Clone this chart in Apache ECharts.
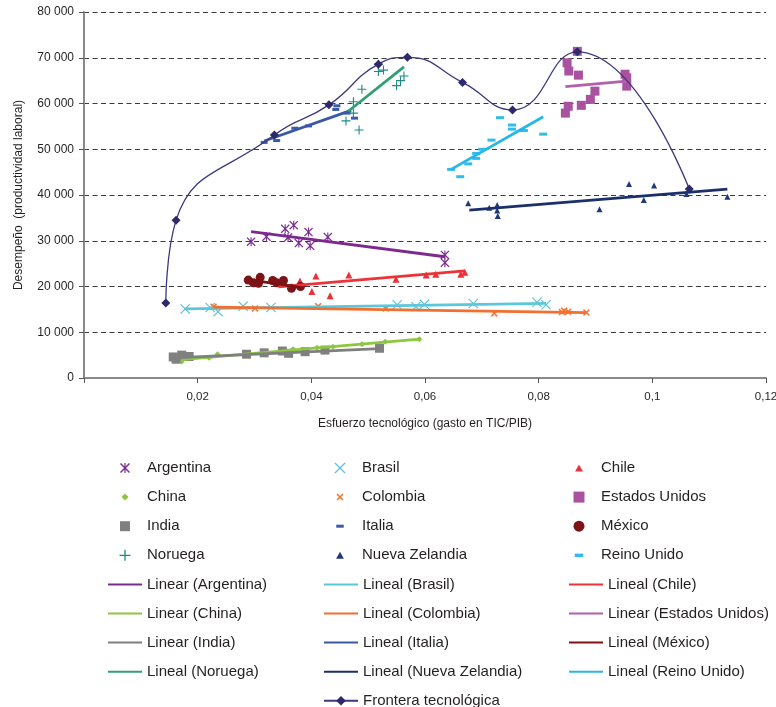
<!DOCTYPE html>
<html>
<head>
<meta charset="utf-8">
<script src="https://cdn.jsdelivr.net/npm/echarts@6/dist/echarts.min.js"></script>
<style>
html,body{margin:0;padding:0;background:#fff;}
#chart{width:776px;height:707px;}
</style>
</head>
<body>
<div id="chart"></div>
<script>
// ---- data ----
const xTickLabels = ['', '0,02', '0,04', '0,06', '0,08', '0,1', '0,12'];
const yTickLabels = ['0', '10 000', '20 000', '30 000', '40 000', '50 000', '60 000', '70 000', '80 000'];

const argentina = [[0.0294,29800],[0.0321,30900],[0.0354,32600],[0.0369,33400],[0.0359,30700],[0.0378,29500],[0.0395,31900],[0.0398,28900],[0.0429,30800],[0.0635,26900],[0.0635,25200]];
const brasil = [[0.0178,15100],[0.0222,15400],[0.0236,14500],[0.0280,15700],[0.0329,15400],[0.0551,16000],[0.0584,15600],[0.0599,16100],[0.0685,16300],[0.0797,16550],[0.0813,16000]];
const chile = [[0.0380,21200],[0.0408,22300],[0.0401,18900],[0.0433,18000],[0.0466,22500],[0.0549,21600],[0.0602,22500],[0.0619,22700],[0.0663,22700],[0.0670,23100]];
const china = [[0.0172,3600],[0.0220,4400],[0.0235,5200],[0.0368,6300],[0.0410,6600],[0.0438,6850],[0.0489,7400],[0.0530,7900],[0.0590,8450]];
const colombia = [[0.0228,15600],[0.0301,15200],[0.0412,15700],[0.0531,15200],[0.0722,14100],[0.0841,14400],[0.0845,14700],[0.0852,14500],[0.0884,14300]];
const estadosUnidos = [[0.0868,71400],[0.0850,68900],[0.0853,67100],[0.0870,66200],[0.0952,66400],[0.0955,65600],[0.0955,63800],[0.0899,62700],[0.0891,60900],[0.0875,59600],[0.0852,59400],[0.0847,57900]];
const india = [[0.0157,4600],[0.0162,4100],[0.0172,5000],[0.0185,4700],[0.0286,5200],[0.0317,5500],[0.0349,5900],[0.0360,5400],[0.0389,5750],[0.0424,6100],[0.0520,6500]];
const italia = [[0.0317,51500],[0.0339,51900],[0.0371,54600],[0.0395,55100],[0.0445,59500],[0.0443,58700],[0.0463,57900],[0.0476,56800]];
const mexico = [[0.0289,21400],[0.0298,20800],[0.0310,22000],[0.0307,20700],[0.0332,21300],[0.0339,20800],[0.0351,21300],[0.0365,19600],[0.0381,20000]];
const noruega = [[0.0518,68600],[0.0518,67000],[0.0527,67300],[0.0489,63100],[0.0474,60400],[0.0474,57900],[0.0461,56200],[0.0484,54200],[0.0550,63900],[0.0557,65000],[0.0563,66000]];
const nuevaZelandia = [[0.0676,38200],[0.0713,37200],[0.0727,37800],[0.0727,36600],[0.0728,35400],[0.0907,36900],[0.0959,42400],[0.0985,38900],[0.1003,42100],[0.1060,40200],[0.1132,39600]];
const reinoUnido = [[0.0646,45600],[0.0662,44000],[0.0676,46800],[0.0690,48000],[0.0690,49100],[0.0701,50000],[0.0717,52000],[0.0732,56900],[0.0753,55300],[0.0753,54400],[0.0774,54100],[0.0808,53300]];

const trendArgentina = [[0.0294,32000],[0.0635,26500]];
const trendBrasil = [[0.0178,15100],[0.0813,16300]];
const trendChile = [[0.0342,19900],[0.0670,23400]];
const trendChina = [[0.0172,4000],[0.0590,8500]];
const trendColombia = [[0.0228,15500],[0.0884,14300]];
const trendEstadosUnidos = [[0.0847,63700],[0.0955,64900]];
const trendIndia = [[0.0157,4400],[0.0520,6400]];
const trendItalia = [[0.0317,51800],[0.0470,58500]];
const trendMexico = [[0.0289,21500],[0.0381,19800]];
const trendNoruega = [[0.0465,58300],[0.0563,68000]];
const trendNuevaZelandia = [[0.0678,36700],[0.1132,41300]];
const trendReinoUnido = [[0.0646,45600],[0.0808,57100]];

const frontera = [[0.0144,16400],[0.0162,34500],[0.0335,53100],[0.0431,59700],[0.0518,68600],[0.0569,70100],[0.0666,64600],[0.0754,58600],[0.0868,71300],[0.1065,41300]];

// ---- styles ----
const FONT = '"Liberation Sans", Arial, sans-serif';
const SYM = {
  star: 'path://M4.4,0H5.6V10H4.4Z M0,1 L1,0 L5,4 L9,0 L10,1 L6,5 L10,9 L9,10 L5,6 L1,10 L0,9 L4,5 Z',
  x: 'path://M0,0.8 L0.8,0 L5,4.2 L9.2,0 L10,0.8 L5.8,5 L10,9.2 L9.2,10 L5,5.8 L0.8,10 L0,9.2 L4.2,5 Z',
  xbold: 'path://M0,1.6 L1.6,0 L5,3.4 L8.4,0 L10,1.6 L6.6,5 L10,8.4 L8.4,10 L5,6.6 L1.6,10 L0,8.4 L3.4,5 Z',
  tri: 'path://M5,0 L10,9 L0,9 Z',
  diamond: 'path://M5,0 L10,5 L5,10 L0,5 Z',
  square: 'path://M0,0 H10 V10 H0 Z',
  dash: 'path://M0,0 H10 V4 H0 Z',
  plus: 'path://M4.4,0H5.6V4.4H10V5.6H5.6V10H4.4V5.6H0V4.4H4.4Z',
  circle: 'circle'
};

const scatterDefs = [
  {name:'Argentina', data:argentina, color:'#7b2f92', symbol:SYM.star, size:9, leg:10, aspect:1},
  {name:'Brasil', data:brasil, color:'#5cc3d8', symbol:SYM.x, size:10, leg:11, aspect:1},
  {name:'Chile', data:chile, color:'#ee3036', symbol:SYM.tri, size:7, leg:7, aspect:10/9},
  {name:'China', data:china, color:'#8cc63f', symbol:SYM.diamond, size:6, leg:7, aspect:1},
  {name:'Colombia', data:colombia, color:'#f47735', symbol:SYM.xbold, size:7, leg:7, aspect:1},
  {name:'Estados Unidos', data:estadosUnidos, color:'#a9529f', symbol:SYM.square, size:9, leg:11, aspect:1},
  {name:'India', data:india, color:'#808080', symbol:SYM.square, size:9, leg:10, aspect:1},
  {name:'Italia', data:italia, color:'#3b5aa9', symbol:SYM.dash, size:[7,3], leg:3, aspect:2.5},
  {name:'México', data:mexico, color:'#7c1417', symbol:SYM.circle, size:9, leg:11, aspect:1},
  {name:'Noruega', data:noruega, color:'#1b8a8a', symbol:SYM.plus, size:9, leg:11, aspect:1},
  {name:'Nueva Zelandia', data:nuevaZelandia, color:'#1e3a78', symbol:SYM.tri, size:6, leg:7, aspect:10/9},
  {name:'Reino Unido', data:reinoUnido, color:'#2ebdec', symbol:SYM.dash, size:[8,3], leg:3.4, aspect:2.5}
];
const trendDefs = [
  {name:'Linear (Argentina)', data:trendArgentina, color:'#7d2a8e'},
  {name:'Lineal (Brasil)', data:trendBrasil, color:'#5cc6da'},
  {name:'Lineal (Chile)', data:trendChile, color:'#ee3338'},
  {name:'Linear (China)', data:trendChina, color:'#8dc63f'},
  {name:'Lineal (Colombia)', data:trendColombia, color:'#f26f2f'},
  {name:'Linear (Estados Unidos)', data:trendEstadosUnidos, color:'#b25fac'},
  {name:'Linear (India)', data:trendIndia, color:'#7f7f7f'},
  {name:'Lineal (Italia)', data:trendItalia, color:'#3a58aa'},
  {name:'Lineal (México)', data:trendMexico, color:'#7b1214'},
  {name:'Lineal (Noruega)', data:trendNoruega, color:'#2fa074'},
  {name:'Lineal (Nueva Zelandia)', data:trendNuevaZelandia, color:'#1d2f6b'},
  {name:'Lineal (Reino Unido)', data:trendReinoUnido, color:'#27b6ea'}
];

const series = [];
scatterDefs.forEach(d => series.push({
  name: d.name, type: 'scatter', data: d.data, symbol: d.symbol, symbolSize: d.size,
  itemStyle: {color: d.color, opacity: 1}, z: 2
}));
trendDefs.forEach(d => series.push({
  name: d.name, type: 'line', data: d.data, symbol: 'none', smooth: false,
  lineStyle: {color: d.color, width: 2.8}, itemStyle: {color: d.color}, z: 3, silent: true
}));
series.push({
  name: 'Frontera tecnológica', type: 'line', data: frontera, smooth: 0.5,
  symbol: SYM.diamond, symbolSize: 9, showSymbol: true,
  lineStyle: {color: '#3d387f', width: 1.3}, itemStyle: {color: '#2d2a6b'}, z: 4
});

// ---- legend: 3 columns, row-major ----
const legendRows = [
  ['Argentina','Brasil','Chile'],
  ['China','Colombia','Estados Unidos'],
  ['India','Italia','México'],
  ['Noruega','Nueva Zelandia','Reino Unido'],
  ['Linear (Argentina)','Lineal (Brasil)','Lineal (Chile)'],
  ['Linear (China)','Lineal (Colombia)','Linear (Estados Unidos)'],
  ['Linear (India)','Lineal (Italia)','Lineal (México)'],
  ['Lineal (Noruega)','Lineal (Nueva Zelandia)','Lineal (Reino Unido)'],
  [null,'Frontera tecnológica',null]
];
const colMarkerLeft = [108, 323, 562];
const colLineLeft = [107, 323, 568];
const ITEM_W = 34;
const rowTop = 468, rowStep = 29.1;
const legends = [];
legendRows.forEach((row, r) => row.forEach((name, c) => {
  if (!name) return;
  const sd = scatterDefs.find(d => d.name === name);
  let h = 14, left = colLineLeft[c];
  let extra = {};
  if (sd) {
    h = sd.leg;
    const w = h * sd.aspect;
    left = colMarkerLeft[c] + (ITEM_W - w) / 2;
  } else if (name === 'Frontera tecnológica') {
    h = 12;
  } else {
    extra = {itemStyle: {opacity: 0}};
  }
  const cy = rowTop + r * rowStep;
  legends.push(Object.assign({
    show: true, orient: 'horizontal', left: left, top: cy - 8,
    padding: 0, itemWidth: ITEM_W, itemHeight: h, itemGap: 0,
    selectedMode: false,
    data: [name],
    textStyle: {fontSize: 15, lineHeight: 16, color: '#231f20', fontFamily: FONT}
  }, extra));
}));

const option = {
  animation: false,
  backgroundColor: '#ffffff',
  textStyle: {fontFamily: FONT},
  grid: {left: 84, right: 10, top: 12, bottom: 329, containLabel: false, outerBoundsMode: 'none'},
  xAxis: {
    type: 'value', min: 0, max: 0.12, interval: 0.02,
    name: 'Esfuerzo tecnológico (gasto en TIC/PIB)', nameLocation: 'middle', nameGap: 40,
    nameTextStyle: {fontSize: 12, color: '#231f20', fontFamily: FONT},
    axisLine: {show: true, onZero: false, lineStyle: {color: '#8a8a8a', width: 2}},
    axisTick: {show: true, length: 5, lineStyle: {color: '#555', width: 1}},
    axisLabel: {fontSize: 11.5, color: '#231f20', margin: 13, fontFamily: FONT,
      formatter: v => xTickLabels[Math.round(v / 0.02)] || ''},
    splitLine: {show: false}
  },
  yAxis: {
    type: 'value', min: 0, max: 80000, interval: 10000,
    name: 'Desempeño  (productividad laboral)', nameLocation: 'middle', nameGap: 59,
    nameTextStyle: {fontSize: 12, color: '#231f20', fontFamily: FONT},
    axisLine: {show: true, onZero: false, lineStyle: {color: '#8a8a8a', width: 2}},
    axisTick: {show: true, length: 5, lineStyle: {color: '#555', width: 1}},
    axisLabel: {fontSize: 12, color: '#231f20', margin: 10, fontFamily: FONT,
      formatter: v => yTickLabels[Math.round(v / 10000)]},
    splitLine: {show: true, lineStyle: {color: '#3a3a3a', width: 1, type: [5, 3.5]}}
  },
  legend: legends,
  series: series
};

const chart = echarts.init(document.getElementById('chart'), null, {renderer: 'canvas'});
chart.setOption(option);
</script>
</body>
</html>
